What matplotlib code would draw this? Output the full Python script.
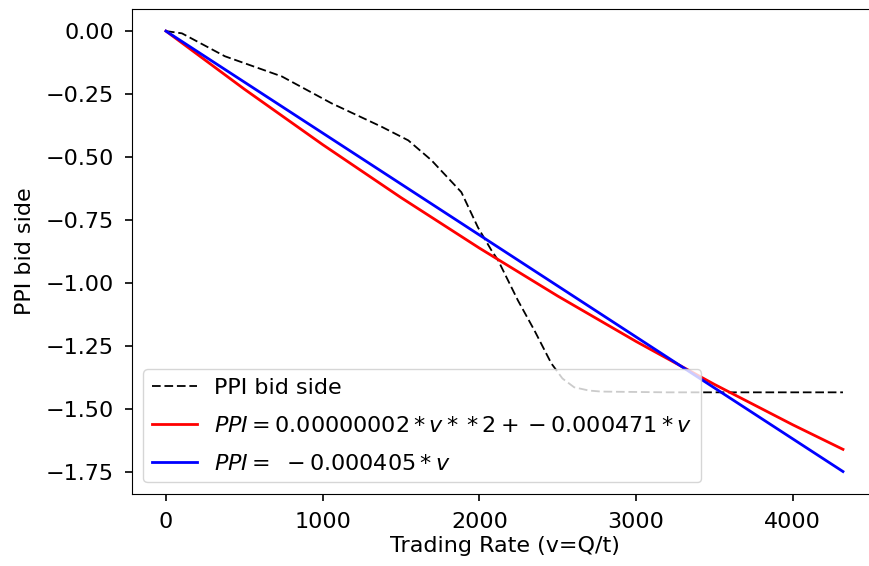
import matplotlib
matplotlib.use("Agg")
import matplotlib.pyplot as plt

# PPI bid side curve
tasa = [0, 102, 376, 739, 1057, 1376, 1546, 1694, 1885, 1991, 2076, 2119,
        2246, 2352, 2459, 2530, 2605, 2700, 2777, 3200, 3800, 4320]
ppi = [0.0, -0.009, -0.10, -0.18, -0.287, -0.38, -0.434, -0.513, -0.640,
       -0.78, -0.87, -0.91, -1.07, -1.19, -1.32, -1.38, -1.415, -1.428,
       -1.432, -1.435, -1.435, -1.435]

# fitted curves, sampled points
v_ajuste = [0, 500, 1000, 1500, 2000, 2500, 3000, 3500, 4000, 4320]
ppi_cuad = [0.0, -0.2305, -0.451, -0.6615, -0.862, -1.0525, -1.233,
            -1.4035, -1.564, -1.6615]
ppi_lineal = [0.0, -0.2025, -0.405, -0.6075, -0.81, -1.0125, -1.215,
              -1.4175, -1.62, -1.7496]

etiqueta_cuad = r"$PPI = 0.00000002 * v * * 2 + -0.000471 * v$"
etiqueta_lineal = r"$PPI = \ -0.000405 * v$"

plt.rcParams["font.size"] = 16

fig = plt.figure(figsize=(8.69, 5.66), dpi=100)
ax = fig.add_axes([0.152, 0.128, 0.857, 0.856])

ax.plot(tasa, ppi, color="k", ls="--", dashes=(4.8, 2.1), lw=1.3,
        label="PPI bid side")
ax.plot(v_ajuste, ppi_cuad, color="r", lw=2, label=etiqueta_cuad)
ax.plot(v_ajuste, ppi_lineal, color="b", lw=2, label=etiqueta_lineal)

ax.set_xticks([0, 1000, 2000, 3000, 4000])
ax.set_yticks([0.0, -0.25, -0.5, -0.75, -1.0, -1.25, -1.5, -1.75])
ax.tick_params(length=5, width=1.2, pad=8)
ax.set_xlabel("Trading Rate (v=Q/t)", labelpad=3)
ax.set_ylabel("PPI bid side", labelpad=8)
ax.legend(loc="lower left", labelspacing=0.8)

fig.savefig("out.png", dpi=100)
